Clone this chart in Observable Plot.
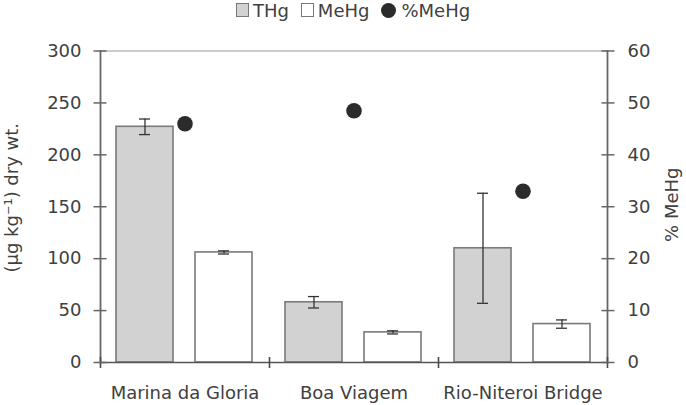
<!DOCTYPE html>
<html><head><meta charset="utf-8">
<script src="https://cdn.jsdelivr.net/npm/d3@7"></script>
<script src="https://cdn.jsdelivr.net/npm/@observablehq/plot@0.6"></script>
<style>
body{margin:0;background:#fff;font-family:"DejaVu Sans",sans-serif;}
#legend{position:relative;height:22px;width:686px;}
#legend .row{position:absolute;left:20px;right:0;top:0px;display:flex;justify-content:center;align-items:flex-end;font-size:18px;line-height:21px;color:#404040;}
#legend .item{display:flex;align-items:flex-end;margin:0 6px;}
#legend .sw{display:inline-block;width:11px;height:12px;border:1.5px solid #777;margin:0 4px 4px 0;}
#legend .dt{display:inline-block;width:15px;height:15px;border-radius:50%;margin:0 5px 3px 0;}
</style>
</head><body>
<div id="legend"><div class="row"></div></div>
<div id="chart"></div>
<script>
const sites = ["Marina da Gloria", "Boa Viagem", "Rio-Niteroi Bridge"];
const series = ["THg", "MeHg"];
const thg = [227, 58, 110];
const thgErr = [7.5, 5.5, 53];
const mehg = [106, 29, 37];
const mehgErr = [1.5, 1.5, 4];
const pctMeHg = [46, 48.5, 33];
const leftTicks = [0, 50, 100, 150, 200, 250, 300];
const rightTicks = [0, 10, 20, 30, 40, 50, 60];
const leftTitle = "(µg kg\u207B\u00B9) dry wt.";
const rightTitle = "% MeHg";
const legendLabels = ["THg", "MeHg", "%MeHg"];

const yMax = leftTicks[leftTicks.length - 1];
const scaleK = yMax / rightTicks[rightTicks.length - 1];
const fills = {THg: "#d2d2d2", MeHg: "#ffffff"};
const text = "#404040";

const rows = [];
sites.forEach((s, i) => {
  rows.push({site: s, series: "THg", value: thg[i], err: thgErr[i]});
  rows.push({site: s, series: "MeHg", value: mehg[i], err: mehgErr[i]});
});
const pctRows = sites.map((s, i) => ({site: s, pct: pctMeHg[i]}));

// legend
const row = document.querySelector("#legend .row");
legendLabels.forEach((lab, i) => {
  const it = document.createElement("span"); it.className = "item";
  const sw = document.createElement("span");
  if (i < 2) { sw.className = "sw"; sw.style.background = fills[series[i]]; }
  else { sw.className = "dt"; sw.style.background = "#2b2b2b"; }
  it.appendChild(sw);
  it.appendChild(document.createTextNode(lab));
  row.appendChild(it);
});

const W = 686, H = 383, mL = 99, mR = 79, mT = 28.5, mB = 43;
const xOpts = {domain: series, paddingInner: 0.275, paddingOuter: 0.2};
const fw = Math.floor((W - mL - mR) / sites.length);

const chart = Plot.plot({
  width: W,
  height: H,
  marginLeft: mL,
  marginRight: mR,
  marginTop: mT,
  marginBottom: mB,
  style: {fontFamily: "DejaVu Sans, sans-serif", fontSize: "18px", color: text, background: "#fff", overflow: "visible"},
  fx: {domain: sites, padding: 0, axis: null},
  x: {...xOpts, axis: null},
  y: {domain: [0, yMax], axis: null},
  marks: [
    Plot.ruleY([yMax], {stroke: "#bbbbbb", strokeWidth: 1.5}),
    Plot.barY(rows, {fx: "site", x: "series", y: "value", fill: d => fills[d.series], stroke: "#7a7a7a", strokeWidth: 1.6}),
    Plot.ruleX(rows, {fx: "site", x: "series", y1: d => d.value - d.err, y2: d => d.value + d.err, stroke: "#333", strokeWidth: 1.3}),
    Plot.tickY(rows, {fx: "site", x: "series", y: d => d.value - d.err, stroke: "#333", strokeWidth: 1.3, inset: 23}),
    Plot.tickY(rows, {fx: "site", x: "series", y: d => d.value + d.err, stroke: "#333", strokeWidth: 1.3, inset: 23}),
    Plot.ruleY([0], {stroke: "#555", strokeWidth: 1.6}),
    Plot.frame({anchor: "left", stroke: "#666", strokeWidth: 1.8, facetAnchor: "left"}),
    Plot.frame({anchor: "right", stroke: "#666", strokeWidth: 1.8, facetAnchor: "right"}),
    // divider ticks at category boundaries (left edge of each category, and right end)
    Plot.axisFx({anchor: "bottom", ticks: sites, tickSize: 11, dy: -5, dx: -fw / 2, tickFormat: () => "", stroke: "#4a4a4a", strokeWidth: 1.6, label: null}),
    Plot.axisFx({anchor: "bottom", ticks: sites.slice(-1), tickSize: 11, dy: -5, dx: fw / 2, tickFormat: () => "", stroke: "#4a4a4a", strokeWidth: 1.6, label: null}),
    Plot.dot(pctRows, {fx: "site", y: d => d.pct * scaleK, r: 7.8, fill: "#2b2b2b"}),
    // left axis
    Plot.axisY({anchor: "left", ticks: leftTicks, tickSize: 13, dx: 6.5, tickFormat: () => "", stroke: "#666", strokeWidth: 1.5, label: null}),
    Plot.axisY({anchor: "left", ticks: leftTicks, tickSize: 0, tickPadding: 19, fill: text, fontSize: 18, label: null}),
    // right axis
    Plot.axisY({anchor: "right", ticks: rightTicks.map(t => t * scaleK), tickSize: 13, dx: -6.5, tickFormat: () => "", stroke: "#666", strokeWidth: 1.5, label: null}),
    Plot.axisY({anchor: "right", ticks: rightTicks.map(t => t * scaleK), tickFormat: d => d / scaleK, tickSize: 0, tickPadding: 20, fill: text, fontSize: 18, label: null}),
    Plot.axisFx({anchor: "bottom", tickSize: 0, tickPadding: 24, fill: text, fontSize: 18, label: null}),
    Plot.text([leftTitle], {text: d => d, frameAnchor: "left", textAnchor: "middle", rotate: -90, dx: -88, dy: -9, fontSize: 18, fill: text, facetAnchor: "left"}),
    Plot.text([rightTitle], {text: d => d, frameAnchor: "right", textAnchor: "middle", rotate: -90, dx: 65, dy: -2, fontSize: 18, fill: text, facetAnchor: "right"})
  ]
});
document.getElementById("chart").appendChild(chart);
</script>
</body></html>
